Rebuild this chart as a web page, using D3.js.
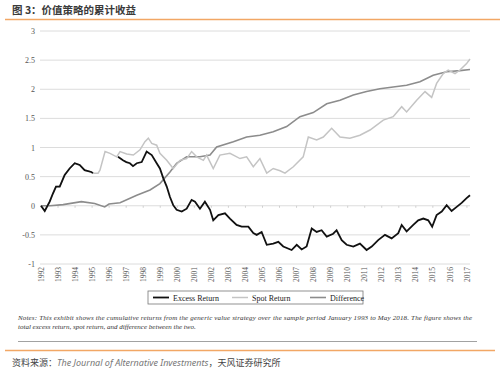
<!DOCTYPE html>
<html>
<head>
<meta charset="utf-8">
<script src="https://cdn.jsdelivr.net/npm/d3@7/dist/d3.min.js"></script>
<style>
  body { margin: 0; background: #fff; }
</style>
</head>
<body>
<svg></svg>
<script>
// tick labels
const yearLabels = [1992, 1993, 1994, 1995, 1996, 1997, 1998, 1999, 2000, 2001, 2002, 2003, 2004,
                    2005, 2006, 2007, 2008, 2009, 2010, 2011, 2012, 2013, 2014, 2015, 2016, 2017];
const yTicks = [-1, -0.5, 0, 0.5, 1, 1.5, 2, 2.5, 3];

// series, [axis year, cumulative return]; null = gap in the line
const excessReturn = [
  [1992.00, 0.00], [1992.22, -0.09], [1992.51, 0.07], [1992.70, 0.21], [1992.88, 0.33], [1993.10, 0.33],
  [1993.39, 0.53], [1993.68, 0.64], [1993.98, 0.73], [1994.27, 0.70], [1994.56, 0.61], [1994.95, 0.58],
  [1995.05, 0.56], [1995.80, null], [1996.52, 0.84], [1996.81, 0.78], [1997.01, 0.75], [1997.22, 0.73],
  [1997.40, 0.68], [1997.62, 0.73], [1997.91, 0.75], [1998.20, 0.93], [1998.50, 0.87], [1998.79, 0.73],
  [1998.98, 0.64], [1999.18, 0.47], [1999.38, 0.33], [1999.57, 0.15], [1999.76, 0.01], [1999.96, -0.07],
  [2000.26, -0.10], [2000.55, -0.05], [2000.84, 0.10], [2001.04, 0.07], [2001.33, -0.05], [2001.62, 0.07],
  [2001.92, -0.07], [2002.11, -0.25], [2002.41, -0.16], [2002.80, -0.13], [2003.09, -0.22], [2003.48, -0.33],
  [2003.78, -0.36], [2004.17, -0.36], [2004.46, -0.47], [2004.66, -0.50], [2004.95, -0.45], [2005.25, -0.67],
  [2005.63, -0.65], [2005.93, -0.62], [2006.22, -0.70], [2006.71, -0.76], [2007.01, -0.67], [2007.30, -0.75],
  [2007.59, -0.70], [2007.89, -0.39], [2008.18, -0.45], [2008.47, -0.42], [2008.77, -0.53], [2009.15, -0.48],
  [2009.35, -0.42], [2009.65, -0.59], [2009.94, -0.67], [2010.33, -0.70], [2010.72, -0.65], [2011.11, -0.76],
  [2011.41, -0.70], [2011.79, -0.59], [2012.19, -0.50], [2012.58, -0.56], [2012.97, -0.47], [2013.17, -0.33],
  [2013.46, -0.44], [2013.85, -0.33], [2014.14, -0.25], [2014.44, -0.22], [2014.73, -0.25], [2014.96, -0.36],
  [2015.22, -0.16], [2015.52, -0.10], [2015.81, 0.01], [2016.10, -0.09], [2016.40, -0.02], [2016.69, 0.05],
  [2016.98, 0.13], [2017.18, 0.18]
];

const spotReturn = [
  [1992.00, 0.00], [1992.22, -0.09], [1992.51, 0.07], [1992.70, 0.21], [1992.88, 0.33], [1993.10, 0.33],
  [1993.39, 0.53], [1993.68, 0.64], [1993.98, 0.73], [1994.27, 0.70], [1994.56, 0.61], [1994.95, 0.58],
  [1995.05, 0.56], [1995.35, 0.56], [1995.46, 0.61], [1995.76, 0.93], [1996.05, 0.90], [1996.44, 0.84],
  [1996.64, 0.93], [1997.03, 0.89], [1997.42, 0.87], [1997.81, 0.96], [1998.10, 1.10], [1998.30, 1.16],
  [1998.50, 1.07], [1998.79, 1.04], [1998.98, 0.90], [1999.38, 0.78], [1999.76, 0.64], [2000.16, 0.78],
  [2000.55, 0.81], [2000.84, 0.93], [2001.14, 0.84], [2001.53, 0.78], [2001.72, 0.87], [2002.11, 0.64],
  [2002.50, 0.87], [2003.09, 0.90], [2003.68, 0.81], [2004.07, 0.84], [2004.46, 0.67], [2004.85, 0.81],
  [2005.25, 0.56], [2005.63, 0.64], [2006.03, 0.60], [2006.32, 0.56], [2006.81, 0.67], [2007.39, 0.84],
  [2007.69, 1.18], [2008.18, 1.13], [2008.57, 1.18], [2009.06, 1.33], [2009.55, 1.18], [2010.13, 1.16],
  [2010.72, 1.21], [2011.31, 1.30], [2012.09, 1.47], [2012.67, 1.53], [2013.17, 1.70], [2013.46, 1.61],
  [2014.05, 1.81], [2014.54, 1.96], [2014.93, 1.86], [2015.22, 2.10], [2015.61, 2.27], [2015.90, 2.33],
  [2016.30, 2.27], [2016.59, 2.33], [2016.98, 2.44], [2017.18, 2.52]
];

const difference = [
  [1992.00, 0.00], [1992.53, 0.00], [1993.30, 0.02], [1994.37, 0.07], [1995.15, 0.04], [1995.74, -0.02],
  [1995.99, 0.03], [1996.64, 0.05], [1997.62, 0.18], [1998.40, 0.27], [1998.98, 0.38], [1999.57, 0.58],
  [1999.96, 0.73], [2000.55, 0.84], [2001.33, 0.84], [2001.92, 0.87], [2002.31, 1.01], [2003.29, 1.10],
  [2004.07, 1.18], [2004.85, 1.21], [2005.63, 1.27], [2006.42, 1.36], [2007.20, 1.53], [2007.98, 1.60],
  [2008.77, 1.75], [2009.55, 1.81], [2010.33, 1.90], [2011.11, 1.96], [2011.89, 2.01], [2012.67, 2.04],
  [2013.46, 2.07], [2014.24, 2.13], [2015.02, 2.24], [2015.81, 2.30], [2016.59, 2.32], [2017.18, 2.34]
];

const seriesNames = ["Excess Return", "Spot Return", "Difference"];

const W = 500, H = 375;
const svg = d3.select("svg").attr("width", W).attr("height", H);

const x = d3.scaleLinear().domain([1992, 2017.18]).range([41, 470]);
const y = d3.scaleLinear().domain([-1, 3]).range([264, 31]);

const serif = "'Liberation Serif', 'Times New Roman', serif";
const cjk = "'Noto Sans CJK SC', 'Noto Sans', sans-serif";

// title + orange rule
svg.append("text")
  .attr("x", 12).attr("y", 14)
  .attr("font-family", cjk).attr("font-weight", "bold")
  .attr("font-size", "10.5px").attr("fill", "#3a3a3a")
  .text("图 3：价值策略的累计收益");

svg.append("line")
  .attr("x1", 5).attr("x2", 500).attr("y1", 19.5).attr("y2", 19.5)
  .attr("stroke", "#f2a765").attr("stroke-width", 1.3);

// gridlines
svg.append("g").selectAll("line")
  .data(yTicks)
  .join("line")
  .attr("x1", 40).attr("x2", 470)
  .attr("y1", d => y(d)).attr("y2", d => y(d))
  .attr("stroke", "#dcdcdc").attr("stroke-width", 1);

// y axis labels
let yAxis = d3.axisLeft(y).tickValues(yTicks).tickSize(0).tickPadding(3)
  .tickFormat(d => d3.format("")(d).replace("−", "-"));
svg.append("g")
  .attr("transform", "translate(38,0)")
  .call(yAxis)
  .call(g => g.select(".domain").remove())
  .call(g => g.selectAll("text")
    .attr("font-family", serif).attr("font-size", "8px").attr("fill", "#555"));

// small tick marks on the zero line
svg.append("g").selectAll("line")
  .data(yearLabels)
  .join("line")
  .attr("x1", d => x(d)).attr("x2", d => x(d))
  .attr("y1", y(0)).attr("y2", y(0) + 2)
  .attr("stroke", "#cfcfcf").attr("stroke-width", 1);

// year labels, rotated, below the plot
svg.append("g").selectAll("text")
  .data(yearLabels)
  .join("text")
  .attr("transform", d => "translate(" + x(d) + ",267) rotate(-90)")
  .attr("text-anchor", "end")
  .attr("dy", "0.35em")
  .attr("font-family", serif).attr("font-size", "7.5px").attr("fill", "#555")
  .text(d => d);

// lines
const line = d3.line()
  .defined(d => d[1] != null)
  .x(d => x(d[0]))
  .y(d => y(d[1]));

svg.append("path").datum(difference)
  .attr("d", line).attr("fill", "none")
  .attr("stroke", "#8c8c8c").attr("stroke-width", 1.6);

svg.append("path").datum(spotReturn)
  .attr("d", line).attr("fill", "none")
  .attr("stroke", "#c4c4c4").attr("stroke-width", 1.5);

svg.append("path").datum(excessReturn)
  .attr("d", line).attr("fill", "none")
  .attr("stroke", "#111").attr("stroke-width", 1.8);

// legend
let legend = svg.append("g").attr("font-family", serif).attr("font-size", "8px").attr("fill", "#222");

legend.append("rect")
  .attr("x", 148).attr("y", 291).attr("width", 215).attr("height", 13)
  .attr("fill", "#fff").attr("stroke", "#777").attr("stroke-width", 0.8);

const legendItems = [
  {name: seriesNames[0], x: 153, color: "#111", w: 1.8},
  {name: seriesNames[1], x: 232, color: "#c4c4c4", w: 1.5},
  {name: seriesNames[2], x: 310, color: "#8c8c8c", w: 1.6}
];

legend.selectAll("line")
  .data(legendItems)
  .join("line")
  .attr("x1", d => d.x).attr("x2", d => d.x + 16)
  .attr("y1", 297.5).attr("y2", 297.5)
  .attr("stroke", d => d.color).attr("stroke-width", d => d.w);

legend.selectAll("text")
  .data(legendItems)
  .join("text")
  .attr("x", d => d.x + 20).attr("y", 300.5)
  .text(d => d.name);

// notes
svg.append("text")
  .attr("x", 18).attr("y", 320)
  .attr("font-family", serif).attr("font-style", "italic")
  .attr("font-size", "7px").attr("fill", "#333")
  .attr("textLength", 454).attr("lengthAdjust", "spacing")
  .text("Notes: This exhibit shows the cumulative returns from the generic value strategy over the sample period January 1993 to May 2018. The figure shows the");

svg.append("text")
  .attr("x", 18).attr("y", 329)
  .attr("font-family", serif).attr("font-style", "italic")
  .attr("font-size", "7px").attr("fill", "#333")
  .text("total excess return, spot return, and difference between the two.");

svg.append("line")
  .attr("x1", 18).attr("x2", 477).attr("y1", 341.5).attr("y2", 341.5)
  .attr("stroke", "#8a8a8a").attr("stroke-width", 0.8);

svg.append("line")
  .attr("x1", 5).attr("x2", 495).attr("y1", 350.5).attr("y2", 350.5)
  .attr("stroke", "#f2a765").attr("stroke-width", 1.3);

// source
let src = svg.append("text")
  .attr("x", 12).attr("y", 366)
  .attr("font-family", cjk).attr("font-size", "9px").attr("fill", "#444");
src.append("tspan").text("资料来源：");
src.append("tspan").attr("font-family", "'Noto Sans', sans-serif")
  .attr("font-style", "italic").attr("fill", "#777")
  .text("The Journal of Alternative Investments");
src.append("tspan").text("，天风证券研究所");
</script>
</body>
</html>
